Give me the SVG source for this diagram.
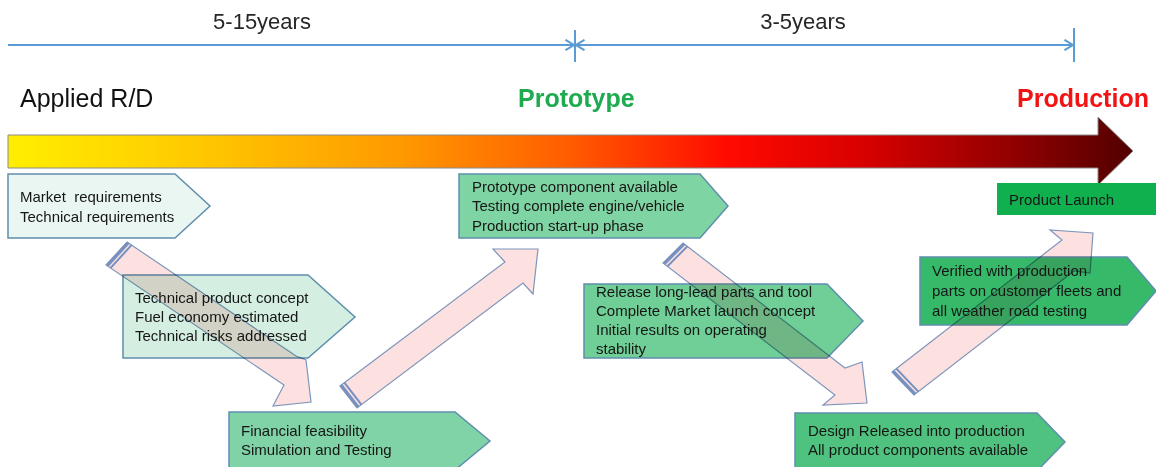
<svg xmlns="http://www.w3.org/2000/svg" width="1156" height="467" viewBox="0 0 1156 467">
  <style>
    .lbl { font-family: "Liberation Sans", Arial, sans-serif; font-size: 15px; fill: #161616; white-space: pre; }
    .span { font-family: "Liberation Sans", Arial, sans-serif; font-size: 22px; fill: #262626; }
    .phase { font-family: "Liberation Sans", Arial, sans-serif; font-size: 25px; }
    .tl { stroke: #5b9bd5; stroke-width: 2; fill: none; }
    .box { stroke: #5f8eae; stroke-width: 1.5; }
    .flow { fill: #fde1e1; stroke: #7e96bb; stroke-width: 1.2; mix-blend-mode: multiply; }
    .bar { fill: #7690bf; }
  </style>
  <defs>
    <marker id="chev" viewBox="0 0 10 12" refX="9.5" refY="6" markerWidth="10" markerHeight="12" markerUnits="userSpaceOnUse" orient="auto-start-reverse">
      <path d="M1,0.8 L9.5,6 L1,11.2" fill="none" stroke="#5b9bd5" stroke-width="2"/>
    </marker>
    <linearGradient id="heat" gradientUnits="userSpaceOnUse" x1="8" y1="0" x2="1133" y2="0">
      <stop offset="0" stop-color="#ffee00"/>
      <stop offset="0.13" stop-color="#ffd200"/>
      <stop offset="0.35" stop-color="#ff9900"/>
      <stop offset="0.5" stop-color="#ff5c00"/>
      <stop offset="0.64" stop-color="#ff0a00"/>
      <stop offset="0.76" stop-color="#d80000"/>
      <stop offset="0.88" stop-color="#990000"/>
      <stop offset="1" stop-color="#520000"/>
    </linearGradient>
  </defs>

  <!-- timeline spans -->
  <g id="timeline">
    <line class="tl" x1="8" y1="45" x2="574" y2="45" marker-end="url(#chev)"/>
    <line class="tl" x1="576" y1="45" x2="1073" y2="45" marker-start="url(#chev)" marker-end="url(#chev)"/>
    <line class="tl" x1="575" y1="30" x2="575" y2="62"/>
    <line class="tl" x1="1074" y1="28" x2="1074" y2="62"/>
    <text class="span" x="262" y="29" text-anchor="middle">5-15years</text>
    <text class="span" x="803" y="29" text-anchor="middle">3-5years</text>
  </g>

  <!-- phase headings -->
  <g id="phases">
    <text class="phase" x="20" y="107" fill="#111">Applied R/D</text>
    <text class="phase" x="518" y="107" fill="#1eab50" font-weight="bold">Prototype</text>
    <text class="phase" x="1017" y="107" fill="#f21414" font-weight="bold">Production</text>
  </g>

  <!-- development progress arrow -->
  <g id="progress">
    <path d="M8,135 H1098 V117 L1133,151 L1098,185 V168 H8 Z" fill="url(#heat)" stroke="#8a8a8a" stroke-width="1"/>
  </g>

  <!-- milestone boxes -->
  <g id="market">
    <path class="box" d="M8,174 H175 L210,206 L175,238 H8 Z" fill="#eaf6f1" stroke="#7f9fc6"/>
    <text class="lbl" x="20" y="202" xml:space="preserve">Market  requirements</text>
    <text class="lbl" x="20" y="222">Technical requirements</text>
  </g>
  <g id="concept">
    <path class="box" d="M123,275 H308 L355,317 L308,358 H123 Z" fill="#d4efe1" stroke="#6f94b8"/>
    <text class="lbl" x="135" y="303">Technical product concept</text>
    <text class="lbl" x="135" y="322">Fuel economy estimated</text>
    <text class="lbl" x="135" y="341">Technical risks addressed</text>
  </g>
  <g id="feasibility">
    <path class="box" d="M229,412 H455 L490,441 L455,470 H229 Z" fill="#80d3a6"/>
    <text class="lbl" x="241" y="436">Financial feasibility</text>
    <text class="lbl" x="241" y="455">Simulation and Testing</text>
  </g>
  <g id="prototype">
    <path class="box" d="M459,174 H700 L728,206 L700,238 H459 Z" fill="#7fd4a3"/>
    <text class="lbl" x="472" y="192">Prototype component available</text>
    <text class="lbl" x="472" y="211">Testing complete engine/vehicle</text>
    <text class="lbl" x="472" y="231">Production start-up phase</text>
  </g>
  <g id="release">
    <path class="box" d="M584,284 H827 L863,321 L827,358 H584 Z" fill="#70cf97"/>
    <text class="lbl" x="596" y="297">Release long-lead parts and tool</text>
    <text class="lbl" x="596" y="316">Complete Market launch concept</text>
    <text class="lbl" x="596" y="335">Initial results on operating</text>
    <text class="lbl" x="596" y="354">stability</text>
  </g>
  <g id="design">
    <path class="box" d="M795,413 H1037 L1065,442 L1037,471 H795 Z" fill="#4ec27e"/>
    <text class="lbl" x="808" y="436">Design Released into production</text>
    <text class="lbl" x="808" y="455">All product components available</text>
  </g>
  <g id="verified">
    <path class="box" d="M920,257 H1127 L1156,291 L1127,325 H920 Z" fill="#37b96a"/>
    <text class="lbl" x="932" y="276">Verified with production</text>
    <text class="lbl" x="932" y="296">parts on customer fleets and</text>
    <text class="lbl" x="932" y="316">all weather road testing</text>
  </g>
  <g id="launch">
    <rect x="997" y="183" width="165" height="32" fill="#10b04f"/>
    <text class="lbl" x="1009" y="205">Product Launch</text>
  </g>

  <!-- striped flow arrows between milestones -->
  <g id="connectors">
    <g id="flow-concept-feasibility">
      <polygon class="flow" points="127,242 296,356 306,360 311,402 273,406 284,385 106,265"/>
      <polygon class="bar" points="127,242 106,265 108.5,266.7 129.5,243.7"/>
      <polygon class="bar" points="130.7,244.5 109.7,267.5 111.4,268.6 132.4,245.6"/>
    </g>
    <g id="flow-feasibility-prototype">
      <polygon class="flow" points="340,386 505,262 493,249 538,249 533,294 523,283 357,408"/>
      <polygon class="bar" points="340,386 357,408 359.4,406.2 342.4,384.2"/>
      <polygon class="bar" points="343.6,383.3 360.6,405.3 362.2,404.1 345.2,382.1"/>
    </g>
    <g id="flow-prototype-design">
      <polygon class="flow" points="683,243 845,368 862,362 867,403 823,405 835,395 663,263"/>
      <polygon class="bar" points="683,243 663,263 665.4,264.8 685.4,244.8"/>
      <polygon class="bar" points="686.6,245.7 666.6,265.7 668.1,267 688.1,247"/>
    </g>
    <g id="flow-design-launch">
      <polygon class="flow" points="892,372 1062,240 1050,230 1093,233 1090,273 1074,271 914,395"/>
      <polygon class="bar" points="892,372 914,395 916.4,393.2 894.4,370.2"/>
      <polygon class="bar" points="895.6,369.2 917.6,392.2 919.1,391 897.1,368"/>
    </g>
  </g>
</svg>
